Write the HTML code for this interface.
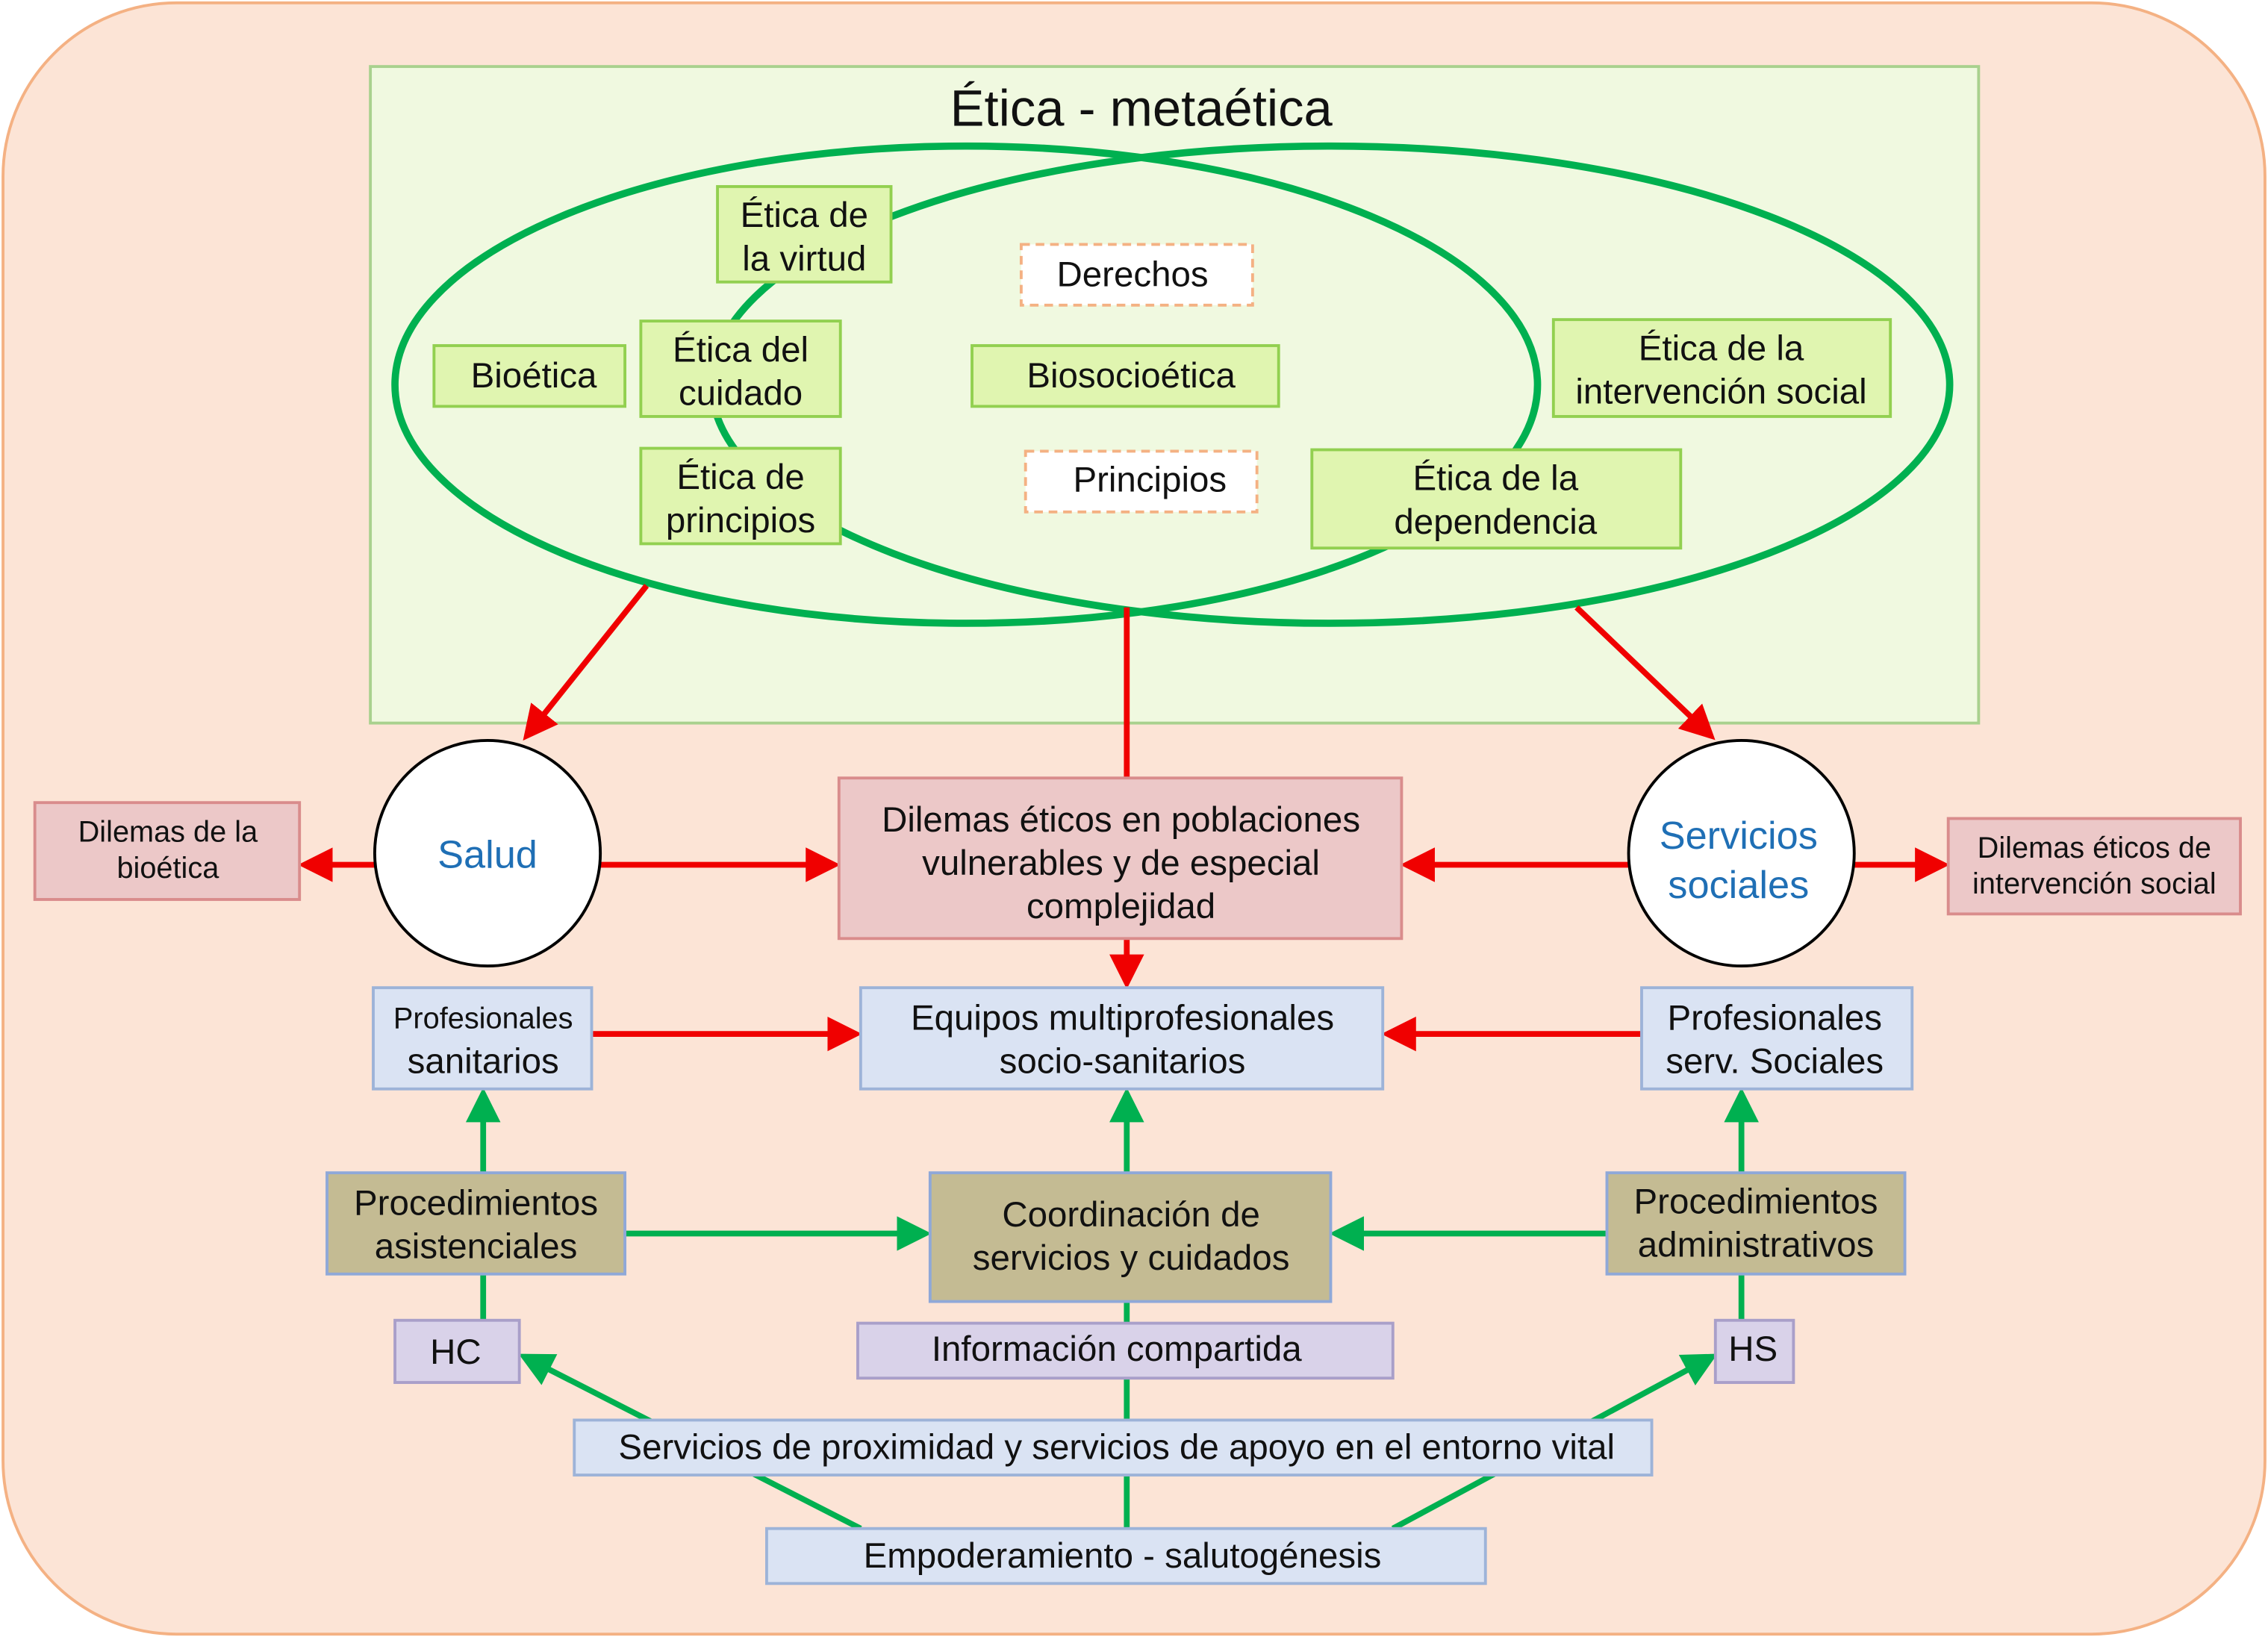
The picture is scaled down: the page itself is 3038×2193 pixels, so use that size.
<!DOCTYPE html>
<html><head><meta charset="utf-8"><style>
html,body{margin:0;padding:0;background:#fff;}
svg{display:block;}
text{font-family:"Liberation Sans",sans-serif;fill:#111;}
</style></head><body>
<svg width="3038" height="2193" viewBox="0 0 1568 1132" xmlns="http://www.w3.org/2000/svg">
<defs>
<marker id="ar" markerWidth="6" markerHeight="6" refX="5" refY="3" orient="auto" markerUnits="strokeWidth"><path d="M0,0 L6,3 L0,6 z" fill="#f00000"/></marker>
<marker id="ag" markerWidth="6" markerHeight="6" refX="5" refY="3" orient="auto" markerUnits="strokeWidth"><path d="M0,0 L6,3 L0,6 z" fill="#00b050"/></marker>
</defs>
<rect x="2" y="2" width="1564" height="1128" rx="120" fill="#fce4d6" stroke="#f4b183" stroke-width="2"/>
<rect x="256" y="46" width="1112" height="454" fill="#f0f9e0" stroke="#a9d18e" stroke-width="2"/>
<text x="789" y="87" font-size="35.5" text-anchor="middle">Ética - metaética</text>
<ellipse cx="668" cy="266" rx="395" ry="165" fill="none" stroke="#00b050" stroke-width="5"/>
<ellipse cx="920" cy="266" rx="428" ry="165" fill="none" stroke="#00b050" stroke-width="5"/>
<g stroke="#92d050" stroke-width="2" fill="#e0f5b0">
<rect x="496" y="129" width="120" height="66"/>
<rect x="300" y="239" width="132" height="42"/>
<rect x="443" y="222" width="138" height="66"/>
<rect x="443" y="310" width="138" height="66"/>
<rect x="672" y="239" width="212" height="42"/>
<rect x="1074" y="221" width="233" height="67"/>
<rect x="907" y="311" width="255" height="68"/>
</g>
<g stroke="#f4b183" stroke-width="2" fill="#fff" stroke-dasharray="6,4">
<rect x="706" y="169" width="160" height="42"/>
<rect x="709" y="312" width="160" height="42"/>
</g>
<g font-size="24.5" text-anchor="middle">
<text x="556" y="157">Ética de</text><text x="556" y="187">la virtud</text>
<text x="369" y="268">Bioética</text>
<text x="512" y="250">Ética del</text><text x="512" y="280">cuidado</text>
<text x="512" y="338">Ética de</text><text x="512" y="368">principios</text>
<text x="782" y="268">Biosocioética</text>
<text x="783" y="198">Derechos</text>
<text x="795" y="340">Principios</text>
<text x="1190" y="249">Ética de la</text><text x="1190" y="279">intervención social</text>
<text x="1034" y="339">Ética  de la</text><text x="1034" y="369">dependencia</text>
</g>
<g stroke="#f00000" stroke-width="4" fill="none">
<line x1="447" y1="405" x2="364" y2="509" marker-end="url(#ar)"/>
<line x1="779" y1="420" x2="779" y2="538"/>
<line x1="1090" y1="420" x2="1183" y2="509" marker-end="url(#ar)"/>
<line x1="259" y1="598" x2="210" y2="598" marker-end="url(#ar)"/>
<line x1="415" y1="598" x2="577" y2="598" marker-end="url(#ar)"/>
<line x1="1126" y1="598" x2="972" y2="598" marker-end="url(#ar)"/>
<line x1="1282" y1="598" x2="1344" y2="598" marker-end="url(#ar)"/>
<line x1="779" y1="649" x2="779" y2="680" marker-end="url(#ar)"/>
<line x1="409" y1="715" x2="592" y2="715" marker-end="url(#ar)"/>
<line x1="1135" y1="715" x2="959" y2="715" marker-end="url(#ar)"/>
</g>
<g stroke="#00b050" stroke-width="4" fill="none">
<line x1="779" y1="900" x2="779" y2="1057"/>
<line x1="334" y1="881" x2="334" y2="913"/>
<line x1="1204" y1="881" x2="1204" y2="913"/>
<line x1="334" y1="811" x2="334" y2="756" marker-end="url(#ag)"/>
<line x1="779" y1="811" x2="779" y2="756" marker-end="url(#ag)"/>
<line x1="1204" y1="811" x2="1204" y2="756" marker-end="url(#ag)"/>
<line x1="432" y1="853" x2="640" y2="853" marker-end="url(#ag)"/>
<line x1="1111" y1="853" x2="923" y2="853" marker-end="url(#ag)"/>
<line x1="595" y1="1057" x2="362" y2="938" marker-end="url(#ag)"/>
<line x1="963" y1="1057" x2="1184" y2="938" marker-end="url(#ag)"/>
</g>
<circle cx="337" cy="590" r="78" fill="#fff" stroke="#000" stroke-width="2"/>
<circle cx="1204" cy="590" r="78" fill="#fff" stroke="#000" stroke-width="2"/>
<text x="337" y="600" font-size="27" text-anchor="middle" style="fill:#1f6fb5">Salud</text>
<text x="1202" y="587" font-size="27" text-anchor="middle" style="fill:#1f6fb5">Servicios</text>
<text x="1202" y="621" font-size="27" text-anchor="middle" style="fill:#1f6fb5">sociales</text>
<g stroke="#d98c8c" stroke-width="2" fill="#ecc8c8">
<rect x="24" y="555" width="183" height="67"/>
<rect x="580" y="538" width="389" height="111"/>
<rect x="1347" y="566" width="202" height="66"/>
</g>
<g stroke="#9db3d8" stroke-width="2" fill="#dae3f3">
<rect x="258" y="683" width="151" height="70"/>
<rect x="595" y="683" width="361" height="70"/>
<rect x="1135" y="683" width="187" height="70"/>
<rect x="397" y="982" width="745" height="38"/>
<rect x="530" y="1057" width="497" height="38"/>
</g>
<g stroke="#8fa8d8" stroke-width="2" fill="#c4bb93">
<rect x="226" y="811" width="206" height="70"/>
<rect x="643" y="811" width="277" height="89"/>
<rect x="1111" y="811" width="206" height="70"/>
</g>
<g stroke="#a99fc9" stroke-width="2" fill="#d9d2e9">
<rect x="273" y="913" width="86" height="43"/>
<rect x="593" y="915" width="370" height="38"/>
<rect x="1186" y="913" width="54" height="43"/>
</g>
<g font-size="20.5" text-anchor="middle">
<text x="116" y="582">Dilemas de la</text><text x="116" y="607">bioética</text>
<text x="1448" y="593">Dilemas éticos de</text><text x="1448" y="618">intervención social</text>
<text x="334" y="711">Profesionales</text>
</g>
<g font-size="24.5" text-anchor="middle">
<text x="775" y="575">Dilemas éticos en poblaciones</text>
<text x="775" y="605">vulnerables y de especial</text>
<text x="775" y="635">complejidad</text>
<text x="334" y="742">sanitarios</text>
<text x="776" y="712">Equipos multiprofesionales</text><text x="776" y="742">socio-sanitarios</text>
<text x="1227" y="712">Profesionales</text><text x="1227" y="742">serv. Sociales</text>
<text x="329" y="840">Procedimientos</text><text x="329" y="870">asistenciales</text>
<text x="782" y="848">Coordinación de</text><text x="782" y="878">servicios y cuidados</text>
<text x="1214" y="839">Procedimientos</text><text x="1214" y="869">administrativos</text>
<text x="315" y="943">HC</text>
<text x="772" y="941">Información compartida</text>
<text x="1212" y="941">HS</text>
<text x="772" y="1009">Servicios de proximidad y servicios de apoyo en el entorno vital</text>
<text x="776" y="1084">Empoderamiento - salutogénesis</text>
</g>
</svg>
</body></html>
